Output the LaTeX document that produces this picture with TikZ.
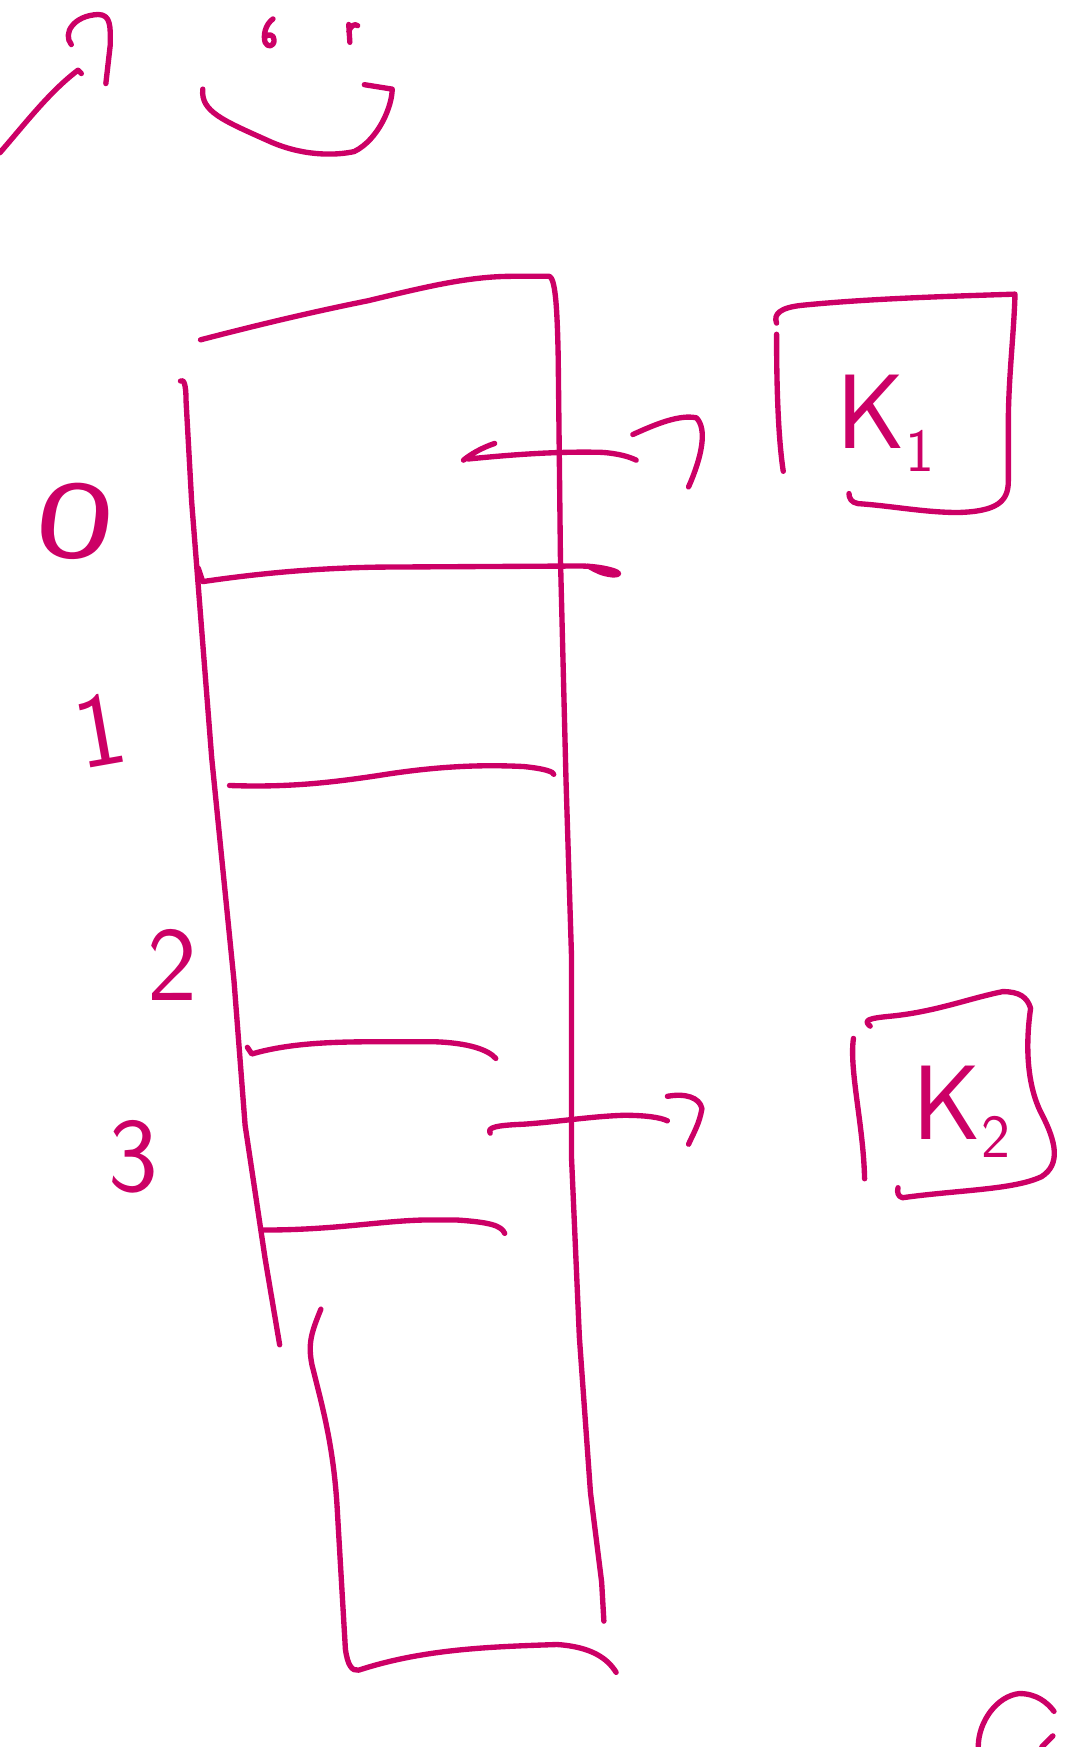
\documentclass[tikz,border=0pt]{standalone}
\definecolor{ink}{RGB}{204,0,102}
\tikzset{
  pen/.style={draw=ink, line width=4.8pt, line cap=round, line join=round},
  lbl/.style={text=ink, font=\sffamily\fontsize{95}{95}\selectfont, inner sep=0pt},
}
\begin{document}
\begin{tikzpicture}[x=1pt,y=-1pt]
\useasboundingbox (0,0) rectangle (963,1568);
% top-left scribbles
\draw[pen] (0,137) .. controls (25,108) and (45,82) .. (70,63) -- (73,66);
\draw[pen] (64,40) .. controls (56,30) and (66,14) .. (88,13) .. controls (100,13) and (99,25) .. (99,40) -- (95,75);
% smiley face
\draw[pen] (245,17) .. controls (238,22) and (236,32) .. (238,38) .. controls (240,43) and (246,42) .. (246,36) .. controls (246,31) and (241,30) .. (238,33);
\draw[pen] (313,22) -- (314,38) (313,28) .. controls (315,23) and (318,21) .. (321,23);
\draw[pen] (182,80) .. controls (180,100) and (200,108) .. (240,126) .. controls (270,140) and (300,140) .. (318,136) .. controls (340,125) and (352,95) .. (352,80) -- (327,76);
% column outline
\draw[pen] (180,305) .. controls (230,292) and (280,280) .. (330,270) .. controls (380,258) and (420,248) .. (460,248) -- (493,248) .. controls (498,250) and (500,270) .. (501,320) -- (503,500) -- (508,700) -- (513,860) -- (513,1040) -- (520,1200) -- (530,1340) -- (540,1420) -- (542,1455);
\draw[pen] (162,342) .. controls (165,340) and (167,345) .. (167,360) -- (172,450) -- (190,680) -- (210,880) -- (220,1010) -- (238,1130) -- (251,1207);
\draw[pen] (288,1175) .. controls (280,1195) and (276,1205) .. (280,1225) .. controls (290,1265) and (300,1300) .. (303,1360) -- (310,1480) .. controls (312,1495) and (316,1500) .. (322,1499) .. controls (380,1480) and (440,1478) .. (500,1476) .. controls (530,1478) and (545,1488) .. (553,1501);
% rungs
\draw[pen] (178,510) -- (182,522) .. controls (230,515) and (280,510) .. (340,509) -- (520,508) .. controls (545,508) and (565,516) .. (550,516) .. controls (540,515) and (535,512) .. (528,508);
\draw[pen] (206,705) .. controls (260,707) and (300,702) .. (340,696) .. controls (390,688) and (430,686) .. (470,688) .. controls (490,690) and (497,693) .. (497,695);
\draw[pen] (222,940) -- (226,946) .. controls (260,936) and (300,935) .. (340,935) -- (390,935) .. controls (420,936) and (438,942) .. (445,950);
\draw[pen] (236,1104) .. controls (300,1104) and (340,1096) .. (380,1095) -- (410,1095) .. controls (440,1097) and (450,1100) .. (453,1107);
% arrows
\draw[pen] (444,398) .. controls (432,402) and (422,408) .. (416,413) (420,412) .. controls (460,408) and (500,405) .. (540,406) .. controls (555,407) and (565,410) .. (571,413);
\draw[pen] (568,390) .. controls (590,380) and (610,372) .. (625,375) .. controls (635,385) and (630,410) .. (618,437);
\draw[pen] (440,1017) .. controls (437,1012) and (445,1010) .. (470,1009) .. controls (500,1007) and (530,1002) .. (560,1001) .. controls (580,1001) and (593,1003) .. (599,1006);
\draw[pen] (599,984) .. controls (615,981) and (628,985) .. (630,995) .. controls (628,1008) and (622,1018) .. (618,1027);
% K1 box
\draw[pen] (697,300) .. controls (697,340) and (698,390) .. (703,423);
\draw[pen] (697,290) .. controls (694,282) and (700,276) .. (720,274) .. controls (780,268) and (850,266) .. (911,264) .. controls (910,300) and (905,340) .. (905,380) -- (905,432) .. controls (905,450) and (895,459) .. (860,460) .. controls (830,460) and (800,454) .. (770,452) .. controls (764,451) and (762,447) .. (762,443);
\node[lbl, anchor=center] (k1) at (782,370) {K};
\node[lbl, font=\sffamily\fontsize{55}{55}\selectfont, anchor=center] (k1s) at (826,405) {1};
% K2 box
\draw[pen] (766,932) .. controls (762,960) and (775,1010) .. (776,1058);
\draw[pen] (781,921) .. controls (775,916) and (778,914) .. (800,912) .. controls (840,908) and (870,896) .. (900,890) .. controls (915,890) and (922,895) .. (925,905) .. controls (920,940) and (922,975) .. (935,1000) .. controls (948,1025) and (952,1045) .. (935,1056) .. controls (910,1068) and (860,1068) .. (810,1075) .. controls (806,1074) and (805,1070) .. (806,1066);
\node[lbl, anchor=center] (k2) at (850,990) {K};
\node[lbl, font=\sffamily\fontsize{55}{55}\selectfont, anchor=center] (k2s) at (894,1020) {2};
% index labels
\node[lbl, anchor=center, font=\sffamily\fontsize{100}{100}\selectfont, xscale=1.5, rotate=-5] (d0) at (68,468) {0};
\node[lbl, anchor=center, rotate=10] (d1) at (90,655) {1};
\node[lbl, anchor=center] (d2) at (155,866) {2};
\node[lbl, anchor=center] (d3) at (120,1038) {3};
% bottom-right partial stroke
\draw[pen] (878,1568) .. controls (878,1545) and (895,1522) .. (915,1520) .. controls (930,1520) and (940,1528) .. (946,1536);
\draw[pen] (945,1558) -- (935,1568);
\end{tikzpicture}
\end{document}
